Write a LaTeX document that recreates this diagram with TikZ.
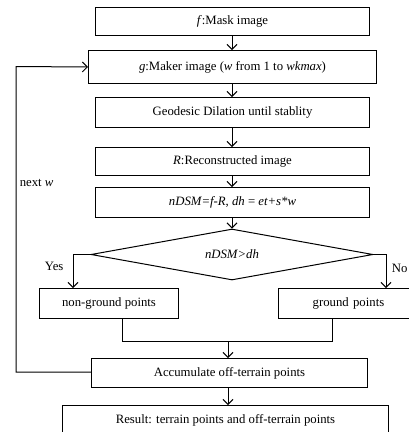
\documentclass[tikz,border=0pt]{standalone}
\usepackage{fontspec}
\setmainfont{Liberation Serif}
\usetikzlibrary{shapes.geometric,arrows.meta}
\begin{document}
\begin{tikzpicture}[x=1bp,y=-1bp,
  font=\fontsize{12.8}{14}\selectfont,
  line width=1bp,
  box/.style={draw,rectangle,inner sep=0pt,anchor=north west},
  arr/.style={-{Straight Barb[length=5bp,width=10bp,line width=1bp]}},
]
\clip (0,0) rectangle (409,432);
\node[box,minimum width=274bp,minimum height=28bp] (f) at (95,7) {\textit{f}:Mask image};
\node[box,minimum width=288bp,minimum height=33bp] (g) at (88,50) {\textit{g}:Maker image (\textit{w} from 1 to \textit{wkmax})};
\node[box,minimum width=274bp,minimum height=30bp] (geo) at (95,97) {Geodesic Dilation until stablity};
\node[box,minimum width=274bp,minimum height=28bp] (r) at (95,147) {\textit{R}:Reconstructed image};
\node[box,minimum width=274bp,minimum height=30bp] (n) at (95,187) {\textit{nDSM=f-R}, \textit{dh} = \textit{et+s*w}};
\node[draw,diamond,minimum width=282bp,minimum height=51bp,aspect=5.5,inner sep=0pt] (d) at (232,254.5) {\textit{nDSM>dh}};
\node[box,minimum width=139bp,minimum height=30bp] (ng) at (39,288) {non-ground points};
\node[box,minimum width=140bp,minimum height=30bp,text width=127bp,align=center] (gp) at (278,288) {ground points};
\node[box,minimum width=276bp,minimum height=29bp] (acc) at (91,358) {Accumulate off-terrain points};
\node[box,minimum width=326bp,minimum height=30bp] (res) at (62,405) {Result: terrain points and off-terrain points};
\coordinate (yl) at (73,254.5);
\coordinate (nr) at (386,254.5);
\coordinate (jl) at (122,341);
\coordinate (jr) at (332,341);
\coordinate (jm) at (228,341);
\coordinate (fb) at (16,372);
\draw[arr] (232,35) -- (232,50);
\draw[arr] (232,83) -- (232,97);
\draw[arr] (232,127) -- (232,147);
\draw[arr] (232,175) -- (232,187);
\draw[arr] (232,217) -- (d.north);
\draw[arr] (d.west) -- (yl) -- (73,288);
\draw[arr] (d.east) -- (nr) -- (386,288);
\draw (122,318) -- (jl) -- (jr) -- (332,318);
\draw[arr] (jm) -- (228,358);
\draw[arr] (228,387) -- (228,405);
\draw[arr] (acc.west |- fb) -- (fb) -- (16,66.5) -- (g.west);
\node[anchor=west] (yes) at (41,266) {Yes};
\node[anchor=west] (no) at (388,268) {No};
\node[anchor=west] (nw) at (16,183) {next \textit{w}};
\end{tikzpicture}
\end{document}
